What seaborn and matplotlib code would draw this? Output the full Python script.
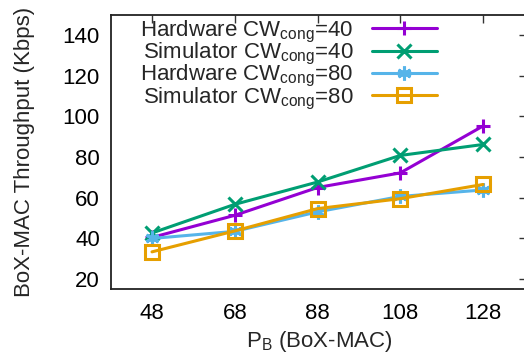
import matplotlib
matplotlib.use("Agg")
import matplotlib.pyplot as plt
import seaborn as sns
import pandas as pd

# Throughput measurements vs. P_B
p_b = [48, 68, 88, 108, 128]
hw_40 = [40.4, 51.3, 65.0, 72.2, 95.3]
sim_40 = [42.6, 56.7, 67.7, 80.8, 86.2]
hw_80 = [39.9, 43.4, 53.0, 60.6, 63.8]
sim_80 = [33.3, 43.6, 54.6, 59.5, 66.5]

labels = [
    "Hardware CW$_{cong}$=40",
    "Simulator CW$_{cong}$=40",
    "Hardware CW$_{cong}$=80",
    "Simulator CW$_{cong}$=80",
]
series = [hw_40, sim_40, hw_80, sim_80]
colors = ["#9400D3", "#009E73", "#56B4E9", "#E69F00"]
asterisk = (6, 2, 0)
markers = ["+", "x", asterisk, "s"]

sns.set_theme(style="white")
plt.rcParams["font.family"] = ["Liberation Sans", "DejaVu Sans"]
plt.rcParams["mathtext.default"] = "regular"
plt.rcParams["mathtext.fontset"] = "custom"
plt.rcParams["mathtext.rm"] = "Liberation Sans"

FS = 16

fig = plt.figure(figsize=(5.24, 3.58), dpi=100)
ax = fig.add_axes([111 / 524, 1 - 289 / 358, (527 - 111) / 524, (289 - 15) / 358])

for lab, vals, c, m in zip(labels, series, colors, markers):
    df = pd.DataFrame({"x": p_b, "y": vals})
    kw = dict(markersize=10, markeredgewidth=2.2, markeredgecolor=c)
    if m == "s":
        kw.update(markerfacecolor="none", markersize=9.5)
    sns.lineplot(data=df, x="x", y="y", ax=ax, color=c, marker=m,
                 linewidth=2.2, label=lab, **kw)

x0, x1 = 48 - 41 / 4.1375, 128 + 44 / 4.1375
ax.set_xlim(x0, x1)
ax.set_ylim(15, 150)
ax.set_xticks(p_b)
ax.set_yticks([20, 40, 60, 80, 100, 120, 140])
ax.tick_params(direction="in", length=6, width=1.0, color="#333333",
               top=True, right=True, labelsize=FS, labelcolor="black")
ax.tick_params(axis="y", pad=8)
ax.tick_params(axis="x", pad=10)
for s in ax.spines.values():
    s.set_color("#222222")
    s.set_linewidth(1.3)

ax.set_xlabel("P$_B$ (BoX-MAC)", fontsize=FS, labelpad=4)
ax.set_ylabel("BoX-MAC Throughput (Kbps)", fontsize=FS, labelpad=20)

leg = ax.legend(loc="upper left", bbox_to_anchor=(0.038, 1.035), frameon=False,
                markerfirst=False, alignment="right", fontsize=FS,
                handlelength=2.9, handletextpad=0.85, labelspacing=-0.17,
                borderaxespad=0.2)

fig.savefig("out.png", dpi=100)
